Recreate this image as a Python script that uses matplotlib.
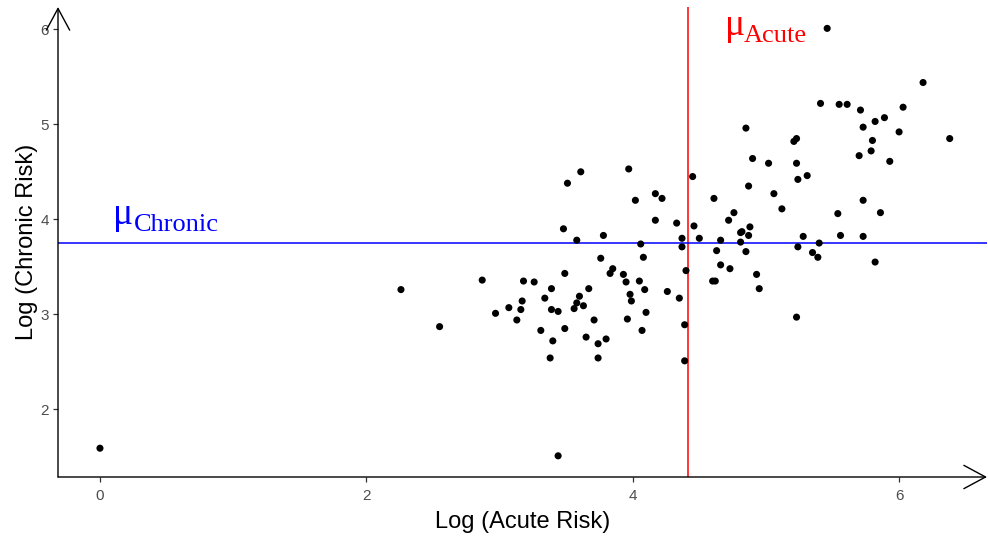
import matplotlib
matplotlib.use("Agg")
import matplotlib.pyplot as plt

# Data (log acute risk, log chronic risk)
acute = [0.00, 3.44, 2.26, 2.55, 2.87, 2.97, 3.07, 3.18, 3.17, 3.16, 3.13, 3.26, 3.34, 3.39,
         3.39, 3.44, 3.31, 3.40, 3.38, 3.49, 3.49, 3.48, 3.51, 3.61, 3.58, 3.60, 3.58, 3.56,
         3.63, 3.67, 3.71, 3.65, 3.74, 3.80, 3.74, 3.76, 3.78, 3.83, 3.85, 3.93, 3.95, 3.98,
         3.99, 3.96, 4.05, 4.09, 4.10, 4.07, 3.97, 4.02, 4.17, 4.22, 4.17, 4.33, 4.06, 4.08,
         4.37, 4.37, 4.26, 4.35, 4.40, 4.39, 4.39, 4.45, 4.46, 4.50, 4.61, 4.63, 4.66, 4.66,
         4.73, 4.60, 4.62, 4.72, 4.76, 4.81, 4.82, 4.81, 4.87, 4.88, 4.85, 4.87, 4.85, 4.90,
         4.93, 4.95, 5.02, 5.06, 5.12, 5.21, 5.23, 5.23, 5.24, 5.31, 5.28, 5.24, 5.23, 5.35,
         5.39, 5.40, 5.41, 5.55, 5.61, 5.71, 5.73, 5.82, 5.89, 5.80, 5.79, 5.70, 5.93, 6.00,
         6.03, 6.18, 6.38, 5.54, 5.73, 5.86, 5.56, 5.73, 5.82, 5.46]
chronic = [1.59, 1.51, 3.26, 2.87, 3.36, 3.01, 3.07, 3.35, 3.14, 3.05, 2.94, 3.34, 3.17, 3.27,
           3.05, 3.03, 2.83, 2.72, 2.54, 2.85, 3.43, 3.90, 4.38, 4.50, 3.78, 3.19, 3.12, 3.06,
           3.09, 3.27, 2.94, 2.76, 2.69, 2.74, 2.54, 3.59, 3.83, 3.43, 3.48, 3.42, 3.34, 3.21,
           3.14, 2.95, 3.35, 3.26, 3.02, 2.83, 4.53, 4.20, 4.27, 4.22, 3.99, 3.96, 3.74, 3.60,
           3.80, 3.71, 3.24, 3.17, 3.46, 2.89, 2.51, 4.45, 3.93, 3.80, 4.22, 3.67, 3.78, 3.52,
           3.48, 3.35, 3.35, 3.99, 4.07, 3.86, 3.87, 3.76, 3.83, 3.92, 3.66, 4.35, 4.96, 4.64,
           3.42, 3.27, 4.59, 4.27, 4.11, 4.82, 4.85, 4.59, 4.42, 4.46, 3.82, 3.71, 2.97, 3.65,
           3.60, 3.75, 5.22, 5.21, 5.21, 5.15, 4.97, 5.03, 5.07, 4.83, 4.72, 4.67, 4.61, 4.92,
           5.18, 5.44, 4.85, 4.06, 4.20, 4.07, 3.83, 3.82, 3.55, 6.01]

mu_acute = 4.414
mu_chronic = 3.75
x_ticks = [0, 2, 4, 6]
y_ticks = [2, 3, 4, 5, 6]
x_label = "Log (Acute Risk)"
y_label = "Log (Chronic Risk)"

plt.rcParams['font.family'] = ['Liberation Sans', 'DejaVu Sans']

fig = plt.figure(figsize=(9.88, 5.40), dpi=100)
ax = fig.add_axes([58/988, 63/540, (987-58)/988, (477-7)/540])
ax.set_xlim(-0.315, 6.66)
ax.set_ylim(1.287, 6.235)

ax.axvline(mu_acute, color='#FF0000', lw=1.1, zorder=1)
ax.axhline(mu_chronic, color='#0000FF', lw=1.1, zorder=1)
ax.scatter(acute, chronic, s=26, color='black', edgecolors='none', zorder=3)

for s in ax.spines.values():
    s.set_visible(False)

arrow_kw = dict(arrowstyle='->,head_length=1.56,head_width=0.84', color='black', lw=1.0,
                shrinkA=0, shrinkB=0, mutation_scale=10)
ax.annotate('', xy=(0, 1), xytext=(0, 0), xycoords='axes fraction', textcoords='axes fraction',
            arrowprops=arrow_kw, annotation_clip=False)
ax.annotate('', xy=(1, 0), xytext=(0, 0), xycoords='axes fraction', textcoords='axes fraction',
            arrowprops=arrow_kw, annotation_clip=False)

ax.set_xticks(x_ticks)
ax.set_yticks(y_ticks)
ax.tick_params(axis='both', length=3.5, width=0.9, color='#333333', labelcolor='#4D4D4D',
               labelsize=11)
ax.tick_params(axis='x', pad=5)
ax.tick_params(axis='y', pad=3)

ax.set_xlabel(x_label, fontsize=17, color='black', labelpad=6)
ax.set_ylabel(y_label, fontsize=17, color='black', labelpad=2)

serif = ['Liberation Serif', 'DejaVu Serif']
# mu labels (mu baseline in data coords, subscript offset in points)
ax.annotate('μ', xy=(0.095, 3.955), xycoords='data', fontsize=27, color='blue', family=serif,
            ha='left', va='baseline')
ax.annotate('Chronic', xy=(0.095, 3.955), xytext=(15, -5.5), textcoords='offset points',
            xycoords='data', fontsize=19, color='blue', family=serif, ha='left', va='baseline')
ax.annotate('μ', xy=(4.69, 5.935), xycoords='data', fontsize=27, color='red', family=serif,
            ha='left', va='baseline')
ax.annotate('Acute', xy=(4.69, 5.935), xytext=(13.5, -5.0), textcoords='offset points',
            xycoords='data', fontsize=19, color='red', family=serif, ha='left', va='baseline')

fig.savefig('out.png', dpi=100)
